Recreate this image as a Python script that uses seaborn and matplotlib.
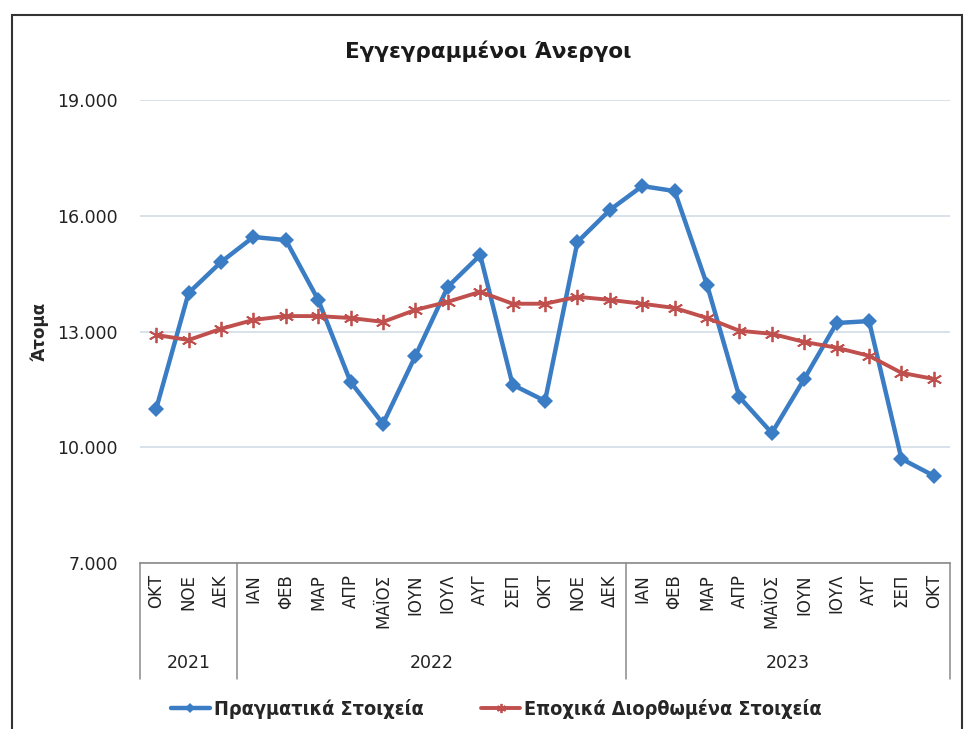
import numpy as np
import pandas as pd
import seaborn as sns
import matplotlib.pyplot as plt
from matplotlib.ticker import FuncFormatter, FixedLocator
from matplotlib.patches import Rectangle
from matplotlib.lines import Line2D

# data
months = ['ΟΚΤ', 'ΝΟΕ', 'ΔΕΚ',
          'ΙΑΝ', 'ΦΕΒ', 'ΜΑΡ', 'ΑΠΡ', 'ΜΑΪΟΣ', 'ΙΟΥΝ', 'ΙΟΥΛ', 'ΑΥΓ', 'ΣΕΠ', 'ΟΚΤ', 'ΝΟΕ', 'ΔΕΚ',
          'ΙΑΝ', 'ΦΕΒ', 'ΜΑΡ', 'ΑΠΡ', 'ΜΑΪΟΣ', 'ΙΟΥΝ', 'ΙΟΥΛ', 'ΑΥΓ', 'ΣΕΠ', 'ΟΚΤ']
years = ['2021', '2022', '2023']
year_counts = [3, 12, 10]
actual = [11000, 14000, 14800, 15450, 15370, 13820, 11690, 10610, 12370, 14160, 14980, 11620,
          11200, 15320, 16150, 16770, 16640, 14210, 11300, 10370, 11770, 13220, 13270, 9700, 9260]
seasonal = [12910, 12780, 13070, 13300, 13400, 13400, 13350, 13250, 13560, 13770, 14030, 13720,
            13720, 13900, 13820, 13720, 13610, 13350, 13020, 12940, 12730, 12580, 12370, 11930, 11770]
y_ticks = [7000, 10000, 13000, 16000, 19000]

label_actual = 'Πραγματικά Στοιχεία'
label_seasonal = 'Εποχικά Διορθωμένα Στοιχεία'

df = pd.DataFrame({'idx': np.arange(len(months)), 'actual': actual, 'seasonal': seasonal})

sns.set_theme(style='white')
plt.rcParams['font.family'] = ['DejaVu Sans']

fig = plt.figure(figsize=(9.77, 7.29), dpi=100)
ax = fig.add_axes([0.1433, 0.2277, 0.8291, 0.6351])

blue = '#3b7dc4'
red = '#c0504d'

sns.lineplot(data=df, x='idx', y='actual', ax=ax, color=blue, linewidth=3.2,
             marker='D', markersize=8.5, markeredgewidth=0, label=label_actual)
sns.lineplot(data=df, x='idx', y='seasonal', ax=ax, color=red, linewidth=2.8,
             marker=(6, 2, 0), markersize=11, markeredgewidth=1.3, markeredgecolor=red,
             label=label_seasonal)

ax.set_xlim(-0.5, len(months) - 0.5)
ax.set_ylim(7000, 19000)
ax.set_yticks(y_ticks)
ax.yaxis.set_major_formatter(FuncFormatter(lambda v, p: f'{v:,.0f}'.replace(',', '.')))
ax.tick_params(axis='y', length=0, pad=16, labelsize=12.5, labelcolor='#222222')
ax.grid(axis='y', color='#d5dee8', linewidth=1.3)
ax.set_axisbelow(True)

ax.set_xticks(df['idx'])
ax.set_xticklabels(months, rotation=90, fontsize=12, color='#222222')
ax.tick_params(axis='x', which='major', length=0, pad=8)
ax.xaxis.set_minor_locator(FixedLocator(np.arange(-0.5, len(months), 1.0)))
ax.tick_params(axis='x', which='minor', length=5, color='#8a8a8a', width=1, direction='out')
ax.set_xlabel('')

for s in ['top', 'right', 'left']:
    ax.spines[s].set_visible(False)
ax.spines['bottom'].set_color('#8a8a8a')
ax.spines['bottom'].set_linewidth(1.2)

# year group separators and labels
trans = ax.get_xaxis_transform()
edges = np.concatenate([[0], np.cumsum(year_counts)]) - 0.5
for e in edges:
    ax.add_line(Line2D([e, e], [0, -0.25], transform=trans, color='#8a8a8a',
                       linewidth=1.1, clip_on=False))
for yr, a, b in zip(years, edges[:-1], edges[1:]):
    ax.text((a + b) / 2, -0.216, yr, transform=trans, ha='center', va='center',
            fontsize=12.5, color='#222222')

ax.set_ylabel('Άτομα', fontsize=12, fontweight='bold')
ax.yaxis.set_label_coords(-0.113, 0.5)

fig.text(0.5, 0.93, 'Εγγεγραμμένοι Άνεργοι', ha='center', va='center',
         fontsize=15.5, fontweight='bold', color='#1a1a1a')

ax.legend_.remove()
handles, labels = ax.get_legend_handles_labels()
fig.legend(handles, labels, loc='center', bbox_to_anchor=(0.508, 0.028), ncol=2, frameon=False,
           prop={'size': 14.2, 'weight': 'bold', 'stretch': 'condensed'},
           handlelength=2.0, columnspacing=2.9, handletextpad=0.2, markerscale=0.6)

fig.patches.append(Rectangle((0.012, -0.02), 0.9725, 0.999, transform=fig.transFigure,
                             fill=False, edgecolor='#333333', linewidth=1.5))

fig.savefig('out.png', dpi=100, facecolor='white')
